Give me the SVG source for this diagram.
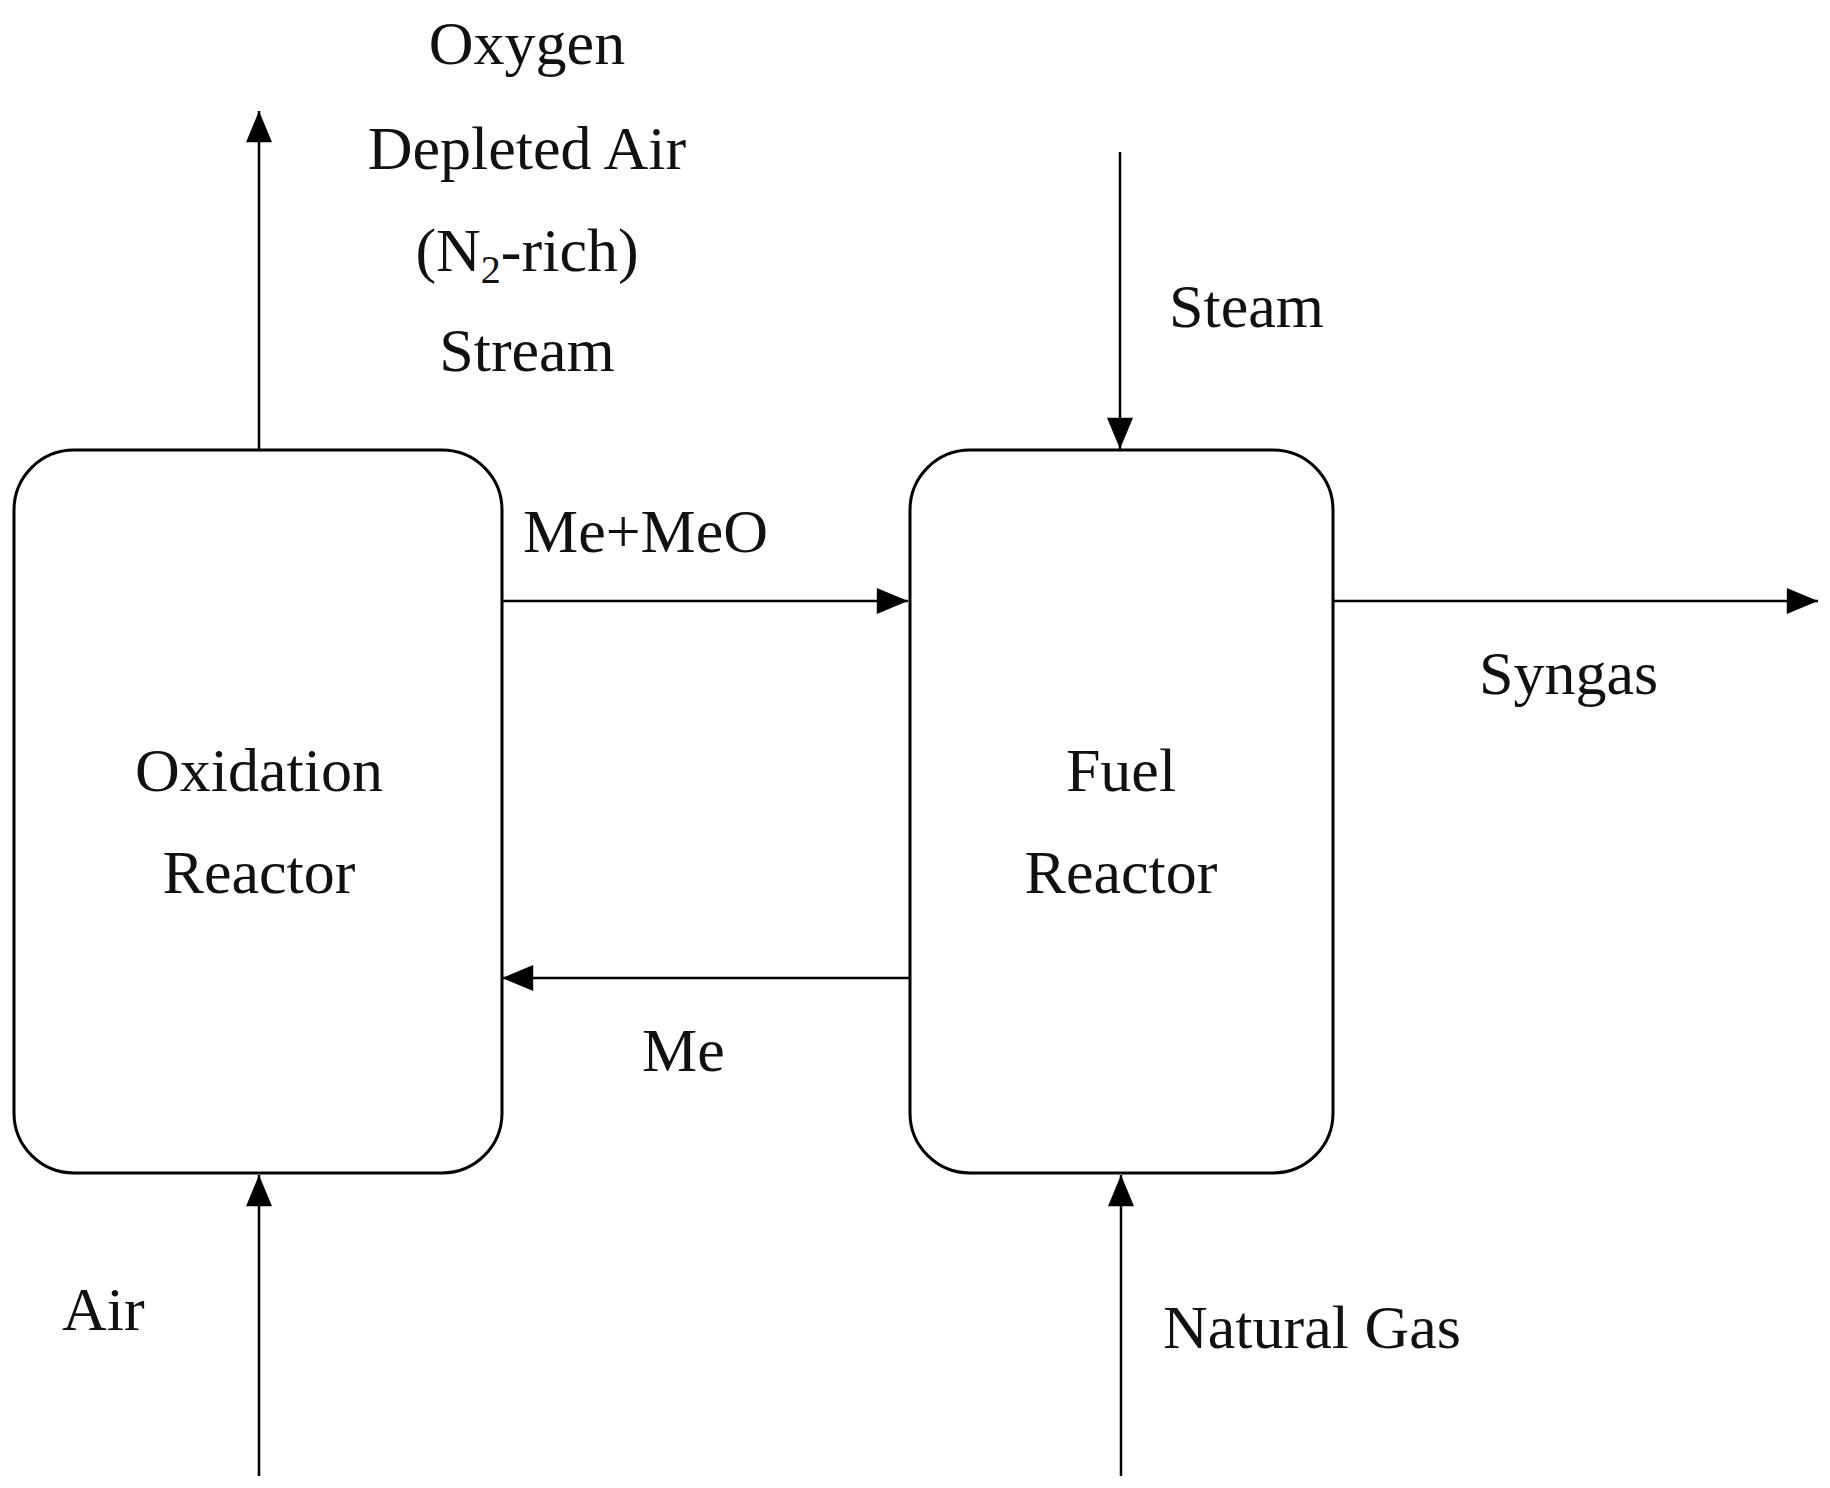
<svg xmlns="http://www.w3.org/2000/svg" width="1830" height="1488" viewBox="0 0 1830 1488">
<style>
text{font-family:"Liberation Serif","Times New Roman",serif;font-size:62px;fill:#111}
.b{fill:#fff;stroke:#000;stroke-width:3}
.c line{stroke:#000;stroke-width:2.5;marker-end:url(#a)}
</style>
<defs><marker id="a" viewBox="0 0 12 10" refX="12" refY="5" markerWidth="12" markerHeight="10" markerUnits="userSpaceOnUse" orient="auto"><path d="M0,0L12,5L0,10z" fill="#000"/></marker>
<marker id="a2" viewBox="0 0 12 10" refX="12" refY="5" markerWidth="34" markerHeight="26" markerUnits="userSpaceOnUse" orient="auto"><path d="M0,0L12,5L0,10z" fill="#000"/></marker></defs>
<rect width="1830" height="1488" fill="#fff"/>
<g id="oxidation"><rect class="b" x="14" y="450" width="488" height="723" rx="60"/>
<text x="259" y="791" text-anchor="middle">Oxidation</text><text x="259" y="893" text-anchor="middle">Reactor</text></g>
<g id="fuel"><rect class="b" x="910" y="450" width="423" height="723" rx="60"/>
<text x="1121" y="791" text-anchor="middle">Fuel</text><text x="1121" y="893" text-anchor="middle">Reactor</text></g>
<g class="c" id="connectors" style="--x:0">
<line x1="259" y1="449" x2="259" y2="111" style="marker-end:url(#a2)"/>
<line x1="1120" y1="152" x2="1120" y2="449" style="marker-end:url(#a2)"/>
<line x1="502" y1="601" x2="908" y2="601" style="marker-end:url(#a2)"/>
<line x1="1333" y1="601" x2="1818" y2="601" style="marker-end:url(#a2)"/>
<line x1="910" y1="978" x2="502" y2="978" style="marker-end:url(#a2)"/>
<line x1="259" y1="1476" x2="259" y2="1175" style="marker-end:url(#a2)"/>
<line x1="1121" y1="1476" x2="1121" y2="1175" style="marker-end:url(#a2)"/>
</g>
<g id="labels">
<text x="527" y="64" text-anchor="middle">Oxygen</text>
<text x="527" y="169" text-anchor="middle">Depleted Air</text>
<text x="527" y="271" text-anchor="middle">(N<tspan font-size="40" dy="12">2</tspan><tspan dy="-12">-rich)</tspan></text>
<text x="527" y="371" text-anchor="middle">Stream</text>
<text x="1169" y="327">Steam</text>
<text x="523" y="552">Me+MeO</text>
<text x="1479" y="694">Syngas</text>
<text x="642" y="1071">Me</text>
<text x="62" y="1330">Air</text>
<text x="1163" y="1348">Natural  Gas</text>
</g>
</svg>
